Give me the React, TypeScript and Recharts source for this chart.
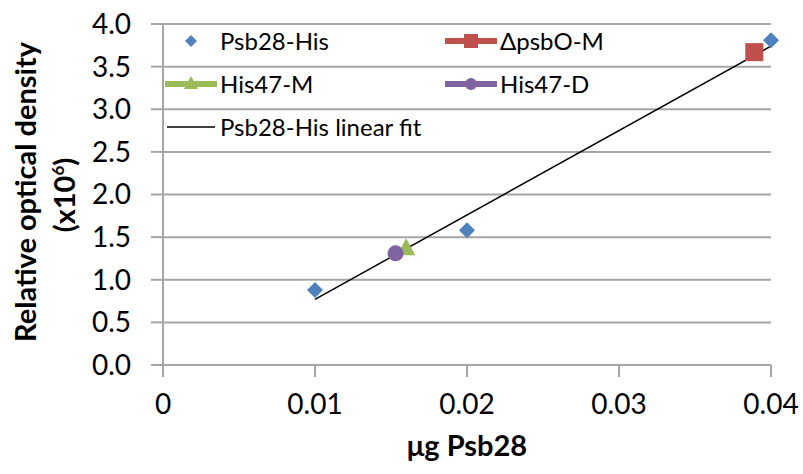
import { ScatterChart, Scatter, XAxis, YAxis, CartesianGrid } from 'recharts';

// values
const psb28His = [
  { x: 0.01, y: 0.88 },
  { x: 0.02, y: 1.58 },
  { x: 0.04, y: 3.81 },
];
const psbOM = [{ x: 0.0389, y: 3.67 }];
const his47M = [{ x: 0.016, y: 1.37 }];
const his47D = [{ x: 0.0153, y: 1.31 }];
const linearFit = [
  { x: 0.01, y: 0.77 },
  { x: 0.04, y: 3.74 },
];
const xTicks = [0, 0.01, 0.02, 0.03, 0.04];
const yTicks = [0, 0.5, 1, 1.5, 2, 2.5, 3, 3.5, 4];

const BLUE = '#4f81bd';
const RED = '#c0504d';
const GREEN = '#9bbb59';
const PURPLE = '#8064a2';
const GRID = '#a6a6a6';
const FONT = 'Lato, "Open Sans", sans-serif';

const Diamond = (p: any) => {
  const { cx, cy } = p;
  const r = 8;
  return <polygon points={`${cx},${cy - r} ${cx + r},${cy} ${cx},${cy + r} ${cx - r},${cy}`} fill={BLUE} />;
};
const Square = (p: any) => {
  const { cx, cy } = p;
  return <rect x={cx - 9} y={cy - 9} width={18} height={18} fill={RED} />;
};
const Triangle = (p: any) => {
  const { cx, cy } = p;
  return <polygon points={`${cx},${cy - 10} ${cx + 9},${cy + 7} ${cx - 9},${cy + 7}`} fill={GREEN} />;
};
const Circle = (p: any) => {
  const { cx, cy } = p;
  return <circle cx={cx} cy={cy} r={8} fill={PURPLE} />;
};

const LegendIcon = ({ kind }: { kind: string }) => {
  const w = 52;
  const h = 22;
  const c = h / 2;
  if (kind === 'diamond') {
    return (
      <svg width={w} height={h}>
        <polygon points={`26,${c - 6} 32,${c} 26,${c + 6} 20,${c}`} fill={BLUE} />
      </svg>
    );
  }
  if (kind === 'fit') {
    return (
      <svg width={w} height={h}>
        <line x1={2} x2={50} y1={c} y2={c} stroke="#000" strokeWidth={1.5} />
      </svg>
    );
  }
  const color = kind === 'square' ? RED : kind === 'triangle' ? GREEN : PURPLE;
  return (
    <svg width={w} height={h}>
      <line x1={0} x2={52} y1={c} y2={c} stroke={color} strokeWidth={6} />
      {kind === 'square' && <rect x={19} y={c - 7} width={14} height={14} fill={color} />}
      {kind === 'triangle' && <polygon points={`26,${c - 8} 33,${c + 5} 19,${c + 5}`} fill={color} />}
      {kind === 'circle' && <circle cx={26} cy={c} r={6} fill={color} />}
    </svg>
  );
};

const LegendBox = () => {
  const item = (kind: string, label: string, width: number) => (
    <div style={{ display: 'flex', alignItems: 'center', width, height: 43 }}>
      <LegendIcon kind={kind} />
      <span style={{ marginLeft: 3 }}>{label}</span>
    </div>
  );
  return (
    <div
      style={{
        position: 'absolute',
        left: 165,
        top: 19,
        fontFamily: FONT,
        fontSize: 24,
        color: '#000',
        lineHeight: 1,
      }}
    >
      <div style={{ display: 'flex' }}>
        {item('diamond', 'Psb28-His', 280)}
        {item('square', 'ΔpsbO-M', 200)}
      </div>
      <div style={{ display: 'flex' }}>
        {item('triangle', 'His47-M', 280)}
        {item('circle', 'His47-D', 200)}
      </div>
      <div style={{ display: 'flex' }}>{item('fit', 'Psb28-His linear fit', 300)}</div>
    </div>
  );
};

const YTitle = () => (
  <g fontFamily={FONT} fontWeight="bold" fontSize={29} fill="#000">
    <text x={0} y={0} transform="translate(36,192) rotate(-90)" textAnchor="middle">
      Relative optical density
    </text>
    <text x={0} y={0} transform="translate(75,195) rotate(-90)" textAnchor="middle">
      (x10<tspan fontSize={17} dy={-11}>6</tspan><tspan dy={11}>)</tspan>
    </text>
  </g>
);

const XTitle = () => (
  <text x={467} y={456} textAnchor="middle" fontFamily={FONT} fontWeight="bold" fontSize={29} fill="#000">
    μg Psb28
  </text>
);

export default function App() {
  return (
    <div style={{ position: 'absolute', left: 0, top: 0, width: 803, height: 474, background: '#fff' }}>
      <ScatterChart width={803} height={474} margin={{ top: 24, right: 32, bottom: 0, left: 0 }}>
        <CartesianGrid vertical={false} stroke={GRID} strokeWidth={2} />
        <XAxis
          type="number"
          dataKey="x"
          domain={[0, 0.04]}
          ticks={xTicks}
          interval={0}
          tickFormatter={(v: number) => (v === 0 ? '0' : String(v))}
          height={109}
          tickSize={12}
          tickMargin={17}
          stroke={GRID}
          strokeWidth={2}
          tick={{ fontFamily: FONT, fontSize: 28, fill: '#000' }}
          label={{ content: () => <XTitle /> }}
        />
        <YAxis
          type="number"
          dataKey="y"
          domain={[0, 4]}
          ticks={yTicks}
          interval={0}
          tickFormatter={(v: number) => v.toFixed(1)}
          width={163}
          tickSize={12}
          tickMargin={20}
          stroke={GRID}
          strokeWidth={2}
          tick={{ fontFamily: FONT, fontSize: 28, fill: '#000' }}
          label={{ content: () => <YTitle /> }}
        />
        <Scatter name="Psb28-His linear fit" data={linearFit} line={{ stroke: '#000', strokeWidth: 1.5 }} shape={() => <g />} isAnimationActive={false} />
        <Scatter name="Psb28-His" data={psb28His} shape={Diamond} isAnimationActive={false} />
        <Scatter name="ΔpsbO-M" data={psbOM} shape={Square} isAnimationActive={false} />
        <Scatter name="His47-M" data={his47M} shape={Triangle} isAnimationActive={false} />
        <Scatter name="His47-D" data={his47D} shape={Circle} isAnimationActive={false} />
      </ScatterChart>
      <LegendBox />
    </div>
  );
}
